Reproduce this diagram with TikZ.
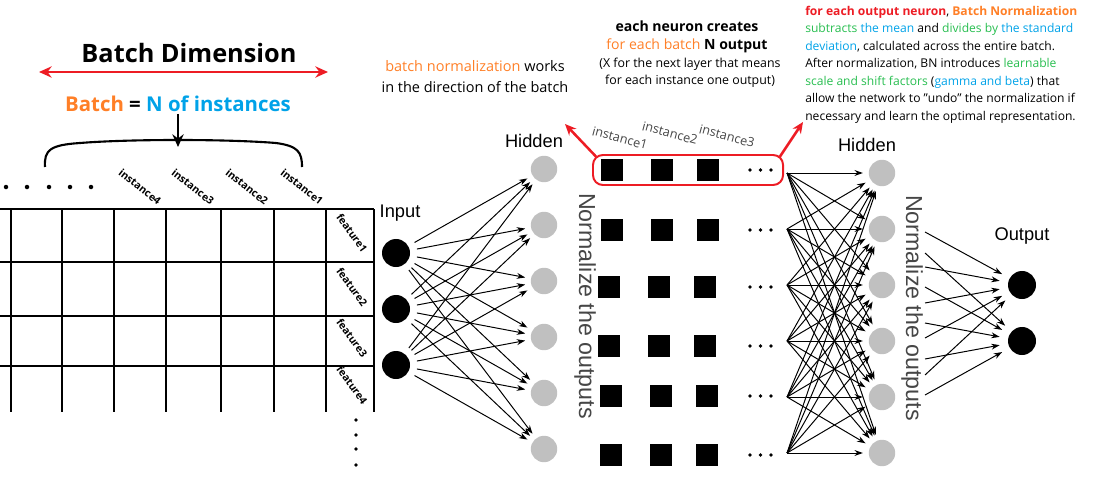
\documentclass[tikz,border=0pt]{standalone}
\usepackage{fontspec}
\setmainfont{Open Sans}
\newfontfamily\netfont{Liberation Sans}
\usepackage{xcolor}
\usepackage{tikz}
\definecolor{bnorange}{RGB}{255,127,39}
\definecolor{bnblue}{RGB}{0,162,232}
\definecolor{bnred}{RGB}{237,28,36}
\definecolor{bngreen}{RGB}{40,190,80}
\definecolor{neurongray}{RGB}{192,192,192}
\definecolor{labelgray}{RGB}{70,70,70}
\usetikzlibrary{arrows.meta, positioning, calc, fit}

\tikzset{
  inneuron/.style={circle, fill=black, minimum size=0.7cm, inner sep=0pt},
  hidneuron/.style={circle, fill=neurongray, minimum size=0.66cm, inner sep=0pt},
  outval/.style={fill=black, minimum size=0.53cm, inner sep=0pt},
  netlabel/.style={font=\netfont\fontsize{13}{15}\selectfont, anchor=base},
  normlabel/.style={font=\netfont\fontsize{16.5}{18}\selectfont, text=labelgray, rotate=-90},
  conn/.style={-{Stealth[length=6pt,width=4.2pt]}, line width=0.7pt},
  redarrow/.style={-{Stealth[length=8pt,width=7pt]}, line width=1.8pt, draw=bnred},
  gridlbl/.style={font=\bfseries\fontsize{7.4}{8}\selectfont, inner sep=0pt},
  instlbl/.style={font=\fontsize{9}{10}\selectfont, text=labelgray, rotate=-15, inner sep=0pt},
}

\begin{document}
\begin{tikzpicture}[x=0.025cm, y=-0.025cm]
\useasboundingbox (0,0) rectangle (1096,492);

\node[font=\bfseries\fontsize{18}{20}\selectfont, anchor=base] (batchdim) at (189,63) {Batch Dimension};
\coordinate (bdl) at (39,72);
\coordinate (bdr) at (328,72);
\draw[{Stealth[length=9pt,width=8pt]}-{Stealth[length=9pt,width=8pt]}, line width=1.8pt, draw=bnred] (bdl) -- (bdr);
\node[font=\bfseries\fontsize{14.5}{16}\selectfont, anchor=base, inner sep=1pt] (batcheq) at (178,112)
  {\textcolor{bnorange}{Batch} = \textcolor{bnblue}{N of instances}};
\coordinate (bracetop) at (178,147);
\draw[line width=1.5pt] (45,167) .. controls (44,150) and (50,145) .. (80,143)
  .. controls (130,139) and (226,139) .. (276,143) .. controls (298,146) and (302,152) .. (302,167);
\draw[-{Stealth[length=9pt,width=8pt]}, line width=1.5pt] (batcheq.south) -- (bracetop);

\foreach \x in {6,27,49,70,91} \fill (\x,187) circle[radius=1.6pt];
\foreach \x/\n in {140/4,193/3,247/2,302/1}
  \node[gridlbl, rotate=-38] (gi\n) at (\x,187) {instance\n};
\foreach \y in {209,262,316,366} \draw[line width=0.9pt] (0,\y) -- (374,\y);
\foreach \x in {11,62,114,166,221,274,326,374} \draw[line width=0.9pt] (\x,209) -- (\x,412);
\foreach \y/\n in {233/1,287/2,338/3,385/4}
  \node[gridlbl, rotate=-54] (gf\n) at (352,\y) {feature\n};
\foreach \y in {420,435,449,465} \fill (356,\y) circle[radius=1.3pt];

\node[font=\fontsize{10.3}{15}\selectfont, align=center, anchor=base] (bndir) at (475,93)
  {\textcolor{bnorange}{batch normalization} works\\in the direction of the batch};
\node[font=\fontsize{10}{13}\selectfont, align=center, anchor=base] (neuronout) at (687,50)
  {\textbf{each neuron creates}\\\textcolor{bnorange}{for each batch} \textbf{N output}};
\node[font=\fontsize{8.8}{12.5}\selectfont, align=center, anchor=base] (neuronsub) at (690,85)
  {(X for the next layer that means\\for each instance one output)};
\node[font=\fontsize{8.6}{12.4}\selectfont, align=left, anchor=north west, inner sep=0pt] (bnexplain) at (805,6)
  {{\bfseries\textcolor{bnred}{for each output neuron}}, {\bfseries\textcolor{bnorange}{Batch Normalization}}\\
   \textcolor{bngreen}{subtracts} \textcolor{bnblue}{the mean} and \textcolor{bngreen}{divides by} \textcolor{bnblue}{the standard}\\
   \textcolor{bnblue}{deviation}, calculated across the entire batch.\\
   After normalization, BN introduces \textcolor{bngreen}{learnable}\\
   \textcolor{bngreen}{scale and shift factors} (\textcolor{bnblue}{gamma and beta}) that\\
   allow the network to \symbol{34}undo\symbol{34} the normalization if\\
   necessary and learn the optimal representation.};

\node[netlabel] (inputlbl) at (400,217) {Input};
\node[netlabel] (hidlbl) at (534,148) {Hidden};
\node[netlabel] (hidblbl) at (867,152) {Hidden};
\node[netlabel] (outlbl) at (1022,240) {Output};

\foreach \i/\y in {1/253,2/309,3/365} \node[inneuron] (in\i) at (396,\y) {};
\foreach \j [evaluate=\j as \y using 113+56*\j] in {1,...,6} \node[hidneuron] (hid\j) at (544,\y) {};
\foreach \j [evaluate=\j as \y using 117+56*\j] in {1,...,6} \node[hidneuron] (hidb\j) at (882,\y) {};
\foreach \k/\y in {1/285,2/341} \node[inneuron] (out\k) at (1022,\y) {};

\foreach \i in {1,2,3}
  \foreach \j in {1,...,6}
    \draw[conn, shorten <=5pt, shorten >=4pt] (in\i) -- (hid\j);

\node[normlabel] (norma) at (585,306) {Normalize the outputs};
\node[normlabel] (normb) at (912,308) {Normalize the outputs};

\foreach \r/\y/\dx in {1/170/0,2/230/0,3/287/-3,4/346/-3,5/396/-1,6/455/-1} {
  \node[outval] (sq\r a) at (612+\dx,\y) {};
  \node[outval] (sq\r b) at (662+\dx,\y) {};
  \node[outval] (sq\r c) at (708+\dx,\y) {};
  \foreach \k in {0,1,2} \fill (750+10.5*\k,\y) circle[radius=1.4pt];
}
\foreach \r [evaluate=\r as \y using 117+56*\r] in {1,...,6} {
  \coordinate (row\r) at (787,\y);
  \foreach \j in {1,...,6}
    \draw[conn, shorten >=4pt] (row\r) -- (hidb\j);
}

\node[draw=bnred, line width=1.4pt, rounded corners=7pt, minimum width=4.75cm, minimum height=0.75cm] (batchrow) at (688,170) {};
\coordinate (bnleft) at (565,124);
\coordinate (bnright) at (803,122);
\draw[redarrow] ([xshift=3pt,yshift=-2pt]batchrow.north west) -- (bnleft);
\draw[redarrow] ([xshift=-3pt,yshift=-2pt]batchrow.north east) -- (bnright);
\node[instlbl] (inst1) at (620,138) {instance1};
\node[instlbl] (inst2) at (670,133) {instance2};
\node[instlbl] (inst3) at (727,136) {instance3};

\foreach \y/\k in {232/1,253/2,267/1,287/2,303/1,323/2,338/1,359/2,375/1,395/2} {
  \coordinate (hs\y) at (925,\y);
  \draw[conn, shorten >=6pt] (hs\y) -- (out\k);
}
\end{tikzpicture}
\end{document}
